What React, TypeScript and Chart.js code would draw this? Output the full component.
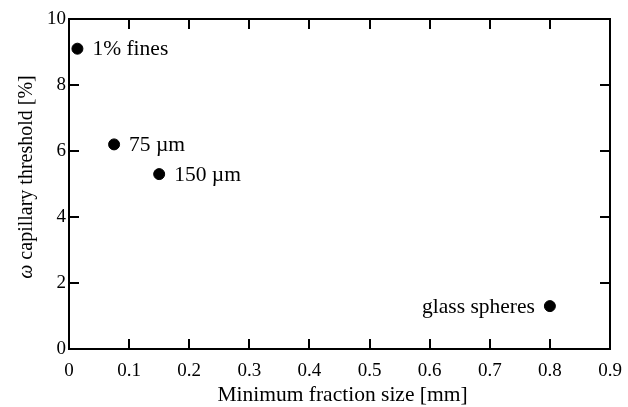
import React, { useEffect, useRef } from "react";
import { Chart, registerables } from "chart.js";

Chart.register(...registerables);

const xValues = [0.014, 0.075, 0.15, 0.8];
const yValues = [9.1, 6.2, 5.3, 1.3];
const pointLabels = ["1% fines", "75 µm", "150 µm", "glass spheres"];
const labelSides = ["right", "right", "right", "left"];
const xMin = 0, xMax = 0.9, xStep = 0.1;
const yMin = 0, yMax = 10, yStep = 2;
const xTitle = "Minimum fraction size [mm]";
const yTitleSymbol = "ω";
const yTitleRest = " capillary threshold [%]";

const SERIF = "'Liberation Serif', 'Times New Roman', serif";

const framePlugin = {
  id: "frameTicks",
  afterDraw(chart: any) {
    const { ctx, chartArea } = chart;
    const xs = chart.scales.x;
    const ys = chart.scales.y;
    const { left, right, top, bottom } = chartArea;
    ctx.save();
    ctx.strokeStyle = "#000";
    ctx.lineWidth = 2;
    ctx.strokeRect(left, top, right - left, bottom - top);
    const tl = 10;
    ctx.beginPath();
    for (let v = xMin + xStep; v < xMax - 1e-9; v += xStep) {
      const px = Math.round(xs.getPixelForValue(v));
      ctx.moveTo(px, bottom);
      ctx.lineTo(px, bottom - tl);
      ctx.moveTo(px, top);
      ctx.lineTo(px, top + tl);
    }
    for (let v = yMin + yStep; v < yMax - 1e-9; v += yStep) {
      const py = Math.round(ys.getPixelForValue(v));
      ctx.moveTo(left, py);
      ctx.lineTo(left + tl, py);
      ctx.moveTo(right, py);
      ctx.lineTo(right - tl, py);
    }
    ctx.stroke();

    // point labels
    ctx.fillStyle = "#000";
    ctx.font = `21.5px ${SERIF}`;
    ctx.textBaseline = "middle";
    const meta = chart.getDatasetMeta(0);
    meta.data.forEach((pt: any, i: number) => {
      const side = labelSides[i];
      if (side === "left") {
        ctx.textAlign = "right";
        ctx.fillText(pointLabels[i], pt.x - 15, pt.y + 1);
      } else {
        ctx.textAlign = "left";
        ctx.fillText(pointLabels[i], pt.x + 15, pt.y + 1);
      }
    });

    // x title
    ctx.font = `21.5px ${SERIF}`;
    ctx.textAlign = "center";
    ctx.textBaseline = "alphabetic";
    ctx.fillText(xTitle, (left + right) / 2 + 3, 401);

    // y title
    ctx.translate(32, (top + bottom) / 2 - 7);
    ctx.rotate(-Math.PI / 2);
    ctx.textAlign = "left";
    ctx.font = `italic 20px ${SERIF}`;
    const w1 = ctx.measureText(yTitleSymbol).width;
    ctx.font = `20px ${SERIF}`;
    const w2 = ctx.measureText(yTitleRest).width;
    const start = -(w1 + w2) / 2;
    ctx.font = `italic 20px ${SERIF}`;
    ctx.fillText(yTitleSymbol, start, 0);
    ctx.font = `20px ${SERIF}`;
    ctx.fillText(yTitleRest, start + w1, 0);
    ctx.restore();
  },
};

export default function App() {
  const ref = useRef<HTMLCanvasElement>(null);
  useEffect(() => {
    document.body.style.margin = "0";
    const canvas = ref.current!;
    const chart = new Chart(canvas, {
      type: "scatter",
      data: {
        datasets: [
          {
            data: xValues.map((x, i) => ({ x, y: yValues[i] })),
            backgroundColor: "#000",
            borderColor: "#000",
            pointRadius: 5.5,
            pointHoverRadius: 5.5,
          },
        ],
      },
      options: {
        responsive: false,
        animation: false,
        devicePixelRatio: 1,
        layout: { padding: { top: 19, right: 18, left: 0, bottom: 0 } },
        plugins: { legend: { display: false }, tooltip: { enabled: false } },
        scales: {
          x: {
            type: "linear",
            min: xMin,
            max: xMax,
            border: { display: false },
            grid: { display: false, drawTicks: false },
            ticks: {
              stepSize: xStep,
              padding: 11,
              color: "#000",
              font: { family: SERIF, size: 19 },
              maxRotation: 0,
              callback: (v: any) => String(+Number(v).toFixed(2)),
            },
            afterFit: (s: any) => {
              s.height = 58;
              s.paddingLeft = 0;
              s.paddingRight = 0;
            },
          },
          y: {
            type: "linear",
            min: yMin,
            max: yMax,
            border: { display: false },
            grid: { display: false, drawTicks: false },
            ticks: {
              stepSize: yStep,
              padding: 3,
              color: "#000",
              font: { family: SERIF, size: 19 },
              callback: (v: any) => String(v),
            },
            afterFit: (s: any) => {
              s.width = 69;
              s.paddingTop = 0;
              s.paddingBottom = 0;
            },
          },
        },
      },
      plugins: [framePlugin],
    });
    return () => chart.destroy();
  }, []);
  return <canvas ref={ref} width={628} height={407} style={{ display: "block" }} />;
}
